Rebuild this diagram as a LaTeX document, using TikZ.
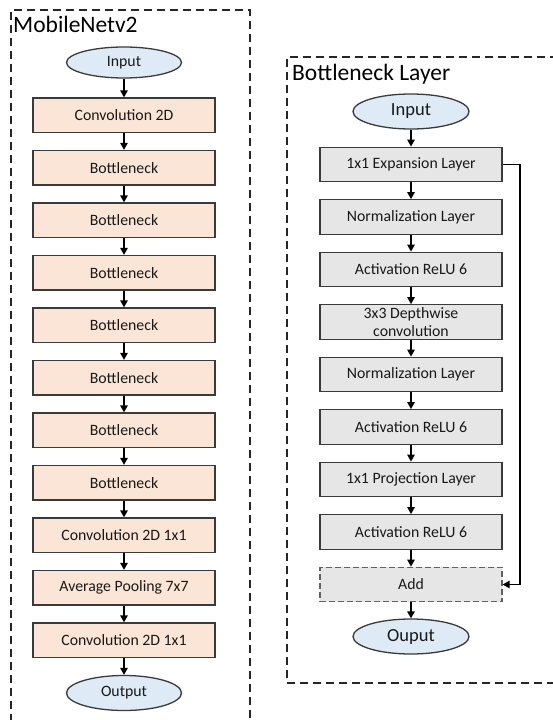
\documentclass[tikz,border=0pt]{standalone}
\usepackage{fontspec}
\setmainfont{Carlito}
\usetikzlibrary{shapes.geometric,arrows.meta}
\definecolor{salmon}{HTML}{FBE5D6}
\definecolor{lgray}{HTML}{E7E6E6}
\definecolor{lblue}{HTML}{DEEBF7}
\definecolor{edge}{HTML}{3A3A3A}
\tikzset{
  every node/.style={font=\fontsize{15.8}{17}\selectfont, text=black!90},
  lbox/.style={draw=edge, line width=1.3pt, fill=salmon, minimum width=182pt, minimum height=34.5pt, inner sep=0pt},
  rbox/.style={draw=edge, line width=1.3pt, fill=lgray, minimum width=182pt, minimum height=34.5pt, inner sep=0pt, align=center},
  addbox/.style={rbox, draw=edge!80, dashed, dash pattern=on 6pt off 3pt},
  oval/.style={ellipse, draw=edge, line width=1.3pt, fill=lblue, minimum width=115pt, minimum height=33pt, inner sep=0pt},
  frame/.style={draw=black!85, line width=1.4pt, dash pattern=on 8pt off 5pt},
  arr/.style={draw=black, line width=1.3pt, -{Triangle[length=7pt,width=7.5pt]}},
  title/.style={font=\fontsize{23.5}{26}\selectfont, anchor=base west, inner sep=0pt, text=black}
}
\begin{document}
\begin{tikzpicture}[x=1pt,y=-1pt]
\useasboundingbox (0,0) rectangle (552,720);
% frames
\draw[frame] (11,722) -- (11,10) -- (250,10) -- (250,722);
\draw[frame] (555,683) -- (287,683) -- (287,57) -- (555,57);
\node[title] (t1) at (13,32) {MobileNetv2};
\node[title] (t2) at (292,80) {Bottleneck Layer};
% left column
\node[oval, minimum height=31pt] (lin) at (124,62.5) {Input};
\node[lbox] (l0) at (124,115.25) {Convolution 2D};
\node[lbox] (l1) at (124,167.75) {Bottleneck};
\node[lbox] (l2) at (124,220.25) {Bottleneck};
\node[lbox] (l3) at (124,272.75) {Bottleneck};
\node[lbox] (l4) at (124,325.25) {Bottleneck};
\node[lbox] (l5) at (124,377.75) {Bottleneck};
\node[lbox] (l6) at (124,430.25) {Bottleneck};
\node[lbox] (l7) at (124,482.75) {Bottleneck};
\node[lbox] (l8) at (124,535.25) {Convolution 2D 1x1};
\node[lbox] (l9) at (124,587.75) {Average Pooling 7x7};
\node[lbox] (l10) at (124,640.25) {Convolution 2D 1x1};
\node[oval, minimum height=35pt] (lout) at (124,693) {Output};
\draw[arr] (lin) -- (l0);
\foreach \a/\b in {l0/l1,l1/l2,l2/l3,l3/l4,l4/l5,l5/l6,l6/l7,l7/l8,l8/l9,l9/l10,l10/lout}
  \draw[arr] (\a) -- (\b);
% right column
\node[oval, minimum width=116pt, minimum height=35pt, font=\fontsize{18.5}{20}\selectfont] (rin) at (411,111.5) {Input};
\node[rbox] (r0) at (411,164.5) {1x1 Expansion Layer};
\node[rbox] (r1) at (411,217) {Normalization Layer};
\node[rbox] (r2) at (411,269.5) {Activation ReLU 6};
\node[rbox, font=\fontsize{15.8}{18}\selectfont] (r3) at (411,322) {3x3 Depthwise\\convolution};
\node[rbox] (r4) at (411,374.5) {Normalization Layer};
\node[rbox] (r5) at (411,427) {Activation ReLU 6};
\node[rbox] (r6) at (411,479.5) {1x1 Projection Layer};
\node[rbox] (r7) at (411,532) {Activation ReLU 6};
\node[addbox] (add) at (411,584.5) {Add};
\node[oval, minimum width=116pt, minimum height=35pt, font=\fontsize{18.5}{20}\selectfont] (rout) at (411,636.5) {Ouput};
\draw[arr] (rin) -- (r0);
\foreach \a/\b in {r0/r1,r1/r2,r2/r3,r3/r4,r4/r5,r5/r6,r6/r7,r7/add,add/rout}
  \draw[arr] (\a) -- (\b);
\coordinate (byp) at (520,164.5);
\draw[arr] (r0.east) -- (byp) |- (add.east);
\end{tikzpicture}
\end{document}
